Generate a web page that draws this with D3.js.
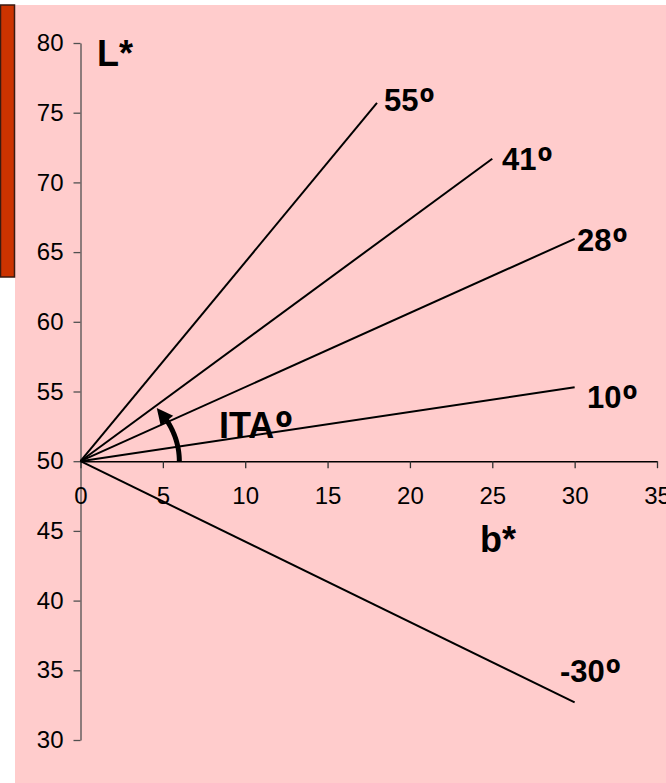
<!DOCTYPE html>
<html>
<head>
<meta charset="utf-8">
<script src="https://cdn.jsdelivr.net/npm/d3@7"></script>
<style>
  html, body { margin: 0; padding: 0; background: #ffffff; }
  svg { display: block; }
  text { font-family: "Liberation Sans", Arial, Helvetica, sans-serif; }
</style>
</head>
<body>
<script>
// ---- data ----
const angleValues = ["55", "41", "28", "10", "-30"];
const endB = [18, 25, 30, 30, 30];
const endL = [75.7, 71.7, 65.95, 55.3, 32.7];
const originB = 0;
const originL = 50;
const xTicks = [0, 5, 10, 15, 20, 25, 30, 35];
const yTicks = [30, 35, 40, 45, 50, 55, 60, 65, 70, 75, 80];
const arcRadius = 6;          // in data units (b*, L*)
const arcStartDeg = 0;
const arcEndDeg = 30;
const arrowBaseDeg = 29;
const arrowTipDeg = 39.5;

const W = 666, H = 783;
const svg = d3.select("body").append("svg").attr("width", W).attr("height", H);

// backgrounds
svg.append("rect").attr("x", 15).attr("y", 5).attr("width", W - 15).attr("height", H - 5).attr("fill", "#FFCCCC");
svg.append("rect").attr("x", 0.5).attr("y", 5).attr("width", 14).attr("height", 272)
  .attr("fill", "#CC3300").attr("stroke", "#3a1a10").attr("stroke-width", 1.5);

const x = d3.scaleLinear().domain([0, 35]).range([80.5, 657]);
const y = d3.scaleLinear().domain([30, 80]).range([740, 43]);

// y axis
const yAxis = svg.append("g").attr("transform", `translate(${x(0)},0)`)
  .call(d3.axisLeft(y).tickValues(yTicks).tickSize(7).tickPadding(10).tickSizeOuter(0));
yAxis.select(".domain").attr("stroke", "#505050").attr("stroke-width", 1.3);
yAxis.selectAll(".tick line").attr("stroke", "#505050").attr("stroke-width", 1.3);
yAxis.selectAll(".tick text").attr("font-size", 24).attr("fill", "#000")
  .attr("font-family", "Liberation Sans, Arial, sans-serif");

// x axis
const xAxis = svg.append("g").attr("transform", `translate(0,${y(50)})`)
  .call(d3.axisBottom(x).tickValues(xTicks).tickSize(7).tickPadding(19).tickSizeOuter(0));
xAxis.select(".domain").attr("stroke", "#000").attr("stroke-width", 1.5);
xAxis.selectAll(".tick line").attr("stroke", "#303030").attr("stroke-width", 1.3);
xAxis.selectAll(".tick text").attr("font-size", 24).attr("fill", "#000")
  .attr("font-family", "Liberation Sans, Arial, sans-serif");

// lines
const rays = angleValues.map((v, i) => ({ v, b: endB[i], L: endL[i] }));
svg.append("g").selectAll("line").data(rays).join("line")
  .attr("x1", x(originB)).attr("y1", y(originL))
  .attr("x2", d => x(d.b)).attr("y2", d => y(d.L))
  .attr("stroke", "#000").attr("stroke-width", 2);

// helper: text with an ordinal-indicator ring
function degText(sel, base, size) {
  sel.append("tspan").text(base);
  sel.append("tspan").attr("font-family", "Noto Sans, Liberation Sans, sans-serif")
    .attr("font-size", size * 1.25).attr("dy", "0.13em").attr("dx", 1).text("º");
}

// angle labels
const labelPos = [[384, 111], [502, 170], [577, 251], [587, 408], [560, 682]];
svg.append("g").selectAll("text").data(rays).join("text")
  .attr("x", (d, i) => labelPos[i][0]).attr("y", (d, i) => labelPos[i][1])
  .attr("font-size", 31).attr("font-weight", "bold").attr("fill", "#000")
  .each(function (d) { degText(d3.select(this), d.v, 31); });

// axis titles
svg.append("text").attr("x", 97).attr("y", 66).attr("font-size", 36).attr("font-weight", "bold").text("L*");
svg.append("text").attr("x", 480).attr("y", 552).attr("font-size", 36).attr("font-weight", "bold").text("b*");
svg.append("text").attr("x", 219).attr("y", 438).attr("font-size", 36).attr("font-weight", "bold")
  .call(s => degText(s, "ITA", 36));

// ITA arc (circle of radius arcRadius in data units, drawn through scales)
const rad = d => d * Math.PI / 180;
const pt = a => [x(originB + arcRadius * Math.cos(rad(a))), y(originL + arcRadius * Math.sin(rad(a)))];
const arcPts = d3.range(arcStartDeg, arcEndDeg + 0.5, 1).map(pt);
svg.append("path").attr("d", d3.line()(arcPts)).attr("fill", "none")
  .attr("stroke", "#000").attr("stroke-width", 5);

// arrowhead
const tip = pt(arrowTipDeg);
const base = pt(arrowBaseDeg);
const dx = tip[0] - base[0], dy = tip[1] - base[1];
const len = Math.hypot(dx, dy);
const ux = dx / len, uy = dy / len;
const hw = 8;
const p1 = [base[0] - uy * hw, base[1] + ux * hw];
const p2 = [base[0] + uy * hw, base[1] - ux * hw];
svg.append("path").attr("d", `M${tip[0]},${tip[1]}L${p1[0]},${p1[1]}L${p2[0]},${p2[1]}Z`).attr("fill", "#000");
</script>
</body>
</html>
